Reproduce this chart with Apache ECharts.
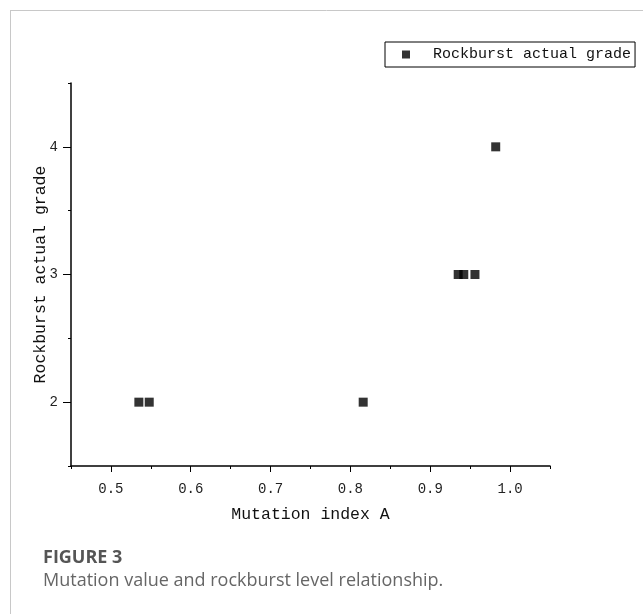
<!DOCTYPE html>
<html>
<head>
<meta charset="utf-8">
<script src="https://cdn.jsdelivr.net/npm/echarts@6/dist/echarts.min.js"></script>
<style>
  html, body { margin: 0; padding: 0; background: #fff; }
  #chart { width: 643px; height: 614px; }
</style>
</head>
<body>
<div id="chart"></div>
<script>
// mutation index A vs actual rockburst grade
var mutationA = [0.535, 0.548, 0.816, 0.935, 0.942, 0.956, 0.982];
var actualGrade = [2, 2, 2, 3, 3, 3, 4];

var xMajor = [0.5, 0.6, 0.7, 0.8, 0.9, 1.0];
var xMinor = [0.45, 0.55, 0.65, 0.75, 0.85, 0.95, 1.05];
var yMajor = [2, 3, 4];
var yMinor = [1.5, 2.5, 3.5, 4.5];

var seriesName = 'Rockburst actual grade';
var monoFont = '"Liberation Mono", "DejaVu Sans Mono", monospace';

var points = [];
for (var i = 0; i < mutationA.length; i++) {
    points.push([mutationA[i], actualGrade[i]]);
}

var myChart = echarts.init(document.getElementById('chart'));
var option = {
    backgroundColor: '#fff',
    animation: false,
    grid: { left: 71, right: 93, top: 83, bottom: 148, containLabel: false },
    legend: {
        left: 385, top: 42,
        data: [seriesName],
        icon: 'rect',
        itemWidth: 8, itemHeight: 8,
        borderColor: '#000', borderWidth: 1,
        padding: [5, 4, 5, 17],
        textStyle: { fontFamily: monoFont, fontSize: 15, color: '#111', padding: [0, 0, 0, 18] }
    },
    xAxis: [
        {
            type: 'value', min: 0.45, max: 1.05,
            name: 'Mutation index A', nameLocation: 'middle', nameGap: 40,
            nameTextStyle: { fontFamily: monoFont, fontSize: 16.5, color: '#111' },
            splitLine: { show: false },
            axisLine: { show: true, onZero: false, lineStyle: { color: '#000', width: 1.5 } },
            axisTick: { show: true, customValues: xMajor, length: 6, lineStyle: { color: '#000', width: 1 } },
            axisLabel: {
                customValues: xMajor, margin: 16,
                fontFamily: monoFont, fontSize: 14, color: '#222',
                formatter: function (v) { return v.toFixed(1); }
            }
        },
        {
            type: 'value', min: 0.45, max: 1.05, position: 'bottom',
            splitLine: { show: false },
            axisLine: { show: false },
            axisTick: { show: true, customValues: xMinor, length: 3, lineStyle: { color: '#000', width: 1 } },
            axisLabel: { show: false }
        }
    ],
    yAxis: [
        {
            type: 'value', min: 1.5, max: 4.5,
            name: seriesName, nameLocation: 'middle', nameGap: 22,
            nameMoveOverlap: false,
            nameTextStyle: { fontFamily: monoFont, fontSize: 16.5, color: '#111' },
            splitLine: { show: false },
            axisLine: { show: true, onZero: false, lineStyle: { color: '#000', width: 1.5 } },
            axisTick: { show: true, customValues: yMajor, length: 8, lineStyle: { color: '#000', width: 1 } },
            axisLabel: {
                customValues: yMajor, margin: 13,
                fontFamily: monoFont, fontSize: 14, color: '#222'
            }
        },
        {
            type: 'value', min: 1.5, max: 4.5, position: 'left',
            splitLine: { show: false },
            axisLine: { show: false },
            axisTick: { show: true, customValues: yMinor, length: 3, lineStyle: { color: '#000', width: 1 } },
            axisLabel: { show: false }
        }
    ],
    series: [
        {
            name: seriesName,
            type: 'scatter',
            xAxisIndex: 0, yAxisIndex: 0,
            symbol: 'rect',
            symbolSize: 9,
            itemStyle: { color: '#000' },
            data: points
        }
    ],
    graphic: [
        // thin frame round the figure
        { type: 'line', shape: { x1: 10, y1: 10.5, x2: 643, y2: 10.5 }, style: { stroke: '#c8c8c8', lineWidth: 1 } },
        { type: 'line', shape: { x1: 10.5, y1: 10, x2: 10.5, y2: 614 }, style: { stroke: '#c8c8c8', lineWidth: 1 } },
        {
            type: 'text', left: 43, top: 549,
            style: { text: 'FIGURE 3', font: 'bold 18px "Open Sans", Lato, sans-serif', fill: '#555' }
        },
        {
            type: 'text', left: 43, top: 572,
            style: { text: 'Mutation value and rockburst level relationship.', font: '18px "Open Sans", Lato, sans-serif', fill: '#666' }
        }
    ]
};
myChart.setOption(option);
</script>
</body>
</html>
